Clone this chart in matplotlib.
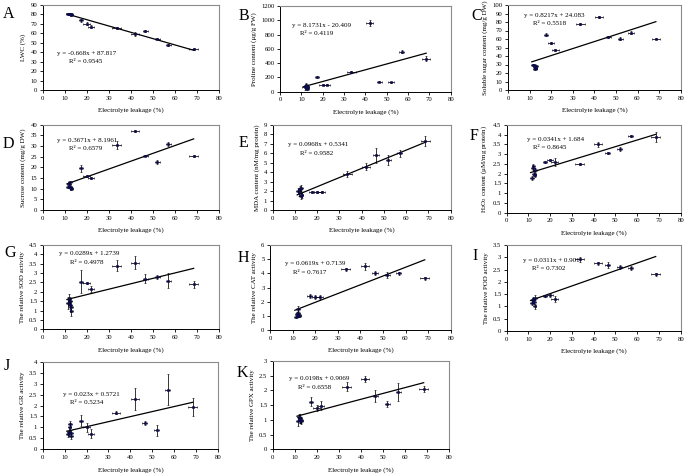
import matplotlib
matplotlib.use("Agg")
import matplotlib.pyplot as plt
from matplotlib.ticker import MultipleLocator, FormatStrFormatter
import numpy as np

plt.rcParams['font.family'] = ['Liberation Serif', 'DejaVu Serif']

W, H = 689, 476

# Shared x values (electrolyte leakage, %) and their errors
el = [11.5, 12.0, 12.3, 12.5, 12.8, 13.0, 17.5, 20.0, 22.0, 33.5, 42.0, 46.5, 52.0, 57.0, 68.5]
el_err = [1.0, 0.8, 0.8, 0.8, 0.8, 0.8, 1.0, 1.5, 1.5, 2.0, 1.8, 1.2, 1.2, 1.2, 2.0]

lwc = [81, 80.5, 81, 80, 80.5, 79.5, 74, 70, 67, 66, 59, 62, 54.5, 48, 43]
lwc_err = [0.8, 0.8, 0.8, 0.8, 0.8, 0.8, 1.5, 1.5, 1.5, 1.0, 2.0, 1.0, 1.0, 1.0, 1.0]

proline = [60, 80, 100, 50, 40, 70, 200, 100, 100, 275, 960, 140, 130, 560, 460]
proline_err = [30, 20, 20, 15, 15, 15, 15, 10, 10, 15, 40, 10, 10, 25, 35]

sugar = [30, 29, 27, 25, 26, 28, 65, 55, 47, 77.5, 86, 62, 60.5, 67.5, 60.5]
sugar_err = [1, 1, 1, 1, 1, 1, 1.5, 1, 1, 1, 1, 1, 1.5, 1.5, 1]

sucrose = [11, 12, 13, 11, 10.5, 10, 19.5, 16, 15, 30.5, 37, 25.5, 22.5, 31, 25.3]
sucrose_err = [0.8, 0.8, 0.8, 0.8, 0.8, 0.8, 1.5, 0.5, 0.5, 2.0, 0.5, 0.3, 1.0, 0.8, 0.3]

mda = [2.0, 1.8, 2.2, 1.5, 2.3, 1.6, 1.9, 1.9, 1.95, 3.8, 4.6, 5.8, 5.3, 6.0, 7.3]
mda_err = [0.3, 0.3, 0.3, 0.3, 0.3, 0.3, 0.1, 0.1, 0.1, 0.3, 0.4, 0.8, 0.5, 0.4, 0.5]

h2o2 = [1.8, 2.3, 2.4, 2.0, 1.95, 2.2, 2.6, 2.7, 2.6, 2.5, 3.5, 3.05, 3.25, 3.95, 3.9]
h2o2_err = [0.1, 0.1, 0.1, 0.1, 0.1, 0.1, 0.05, 0.05, 0.2, 0.05, 0.15, 0.05, 0.1, 0.05, 0.25]

sod = [1.4, 1.6, 1.5, 1.3, 1.2, 1.0, 2.55, 2.45, 2.15, 3.4, 3.55, 2.7, 2.8, 2.6, 2.4]
sod_err = [0.3, 0.3, 0.2, 0.3, 0.3, 0.3, 0.6, 0.05, 0.15, 0.3, 0.35, 0.25, 0.1, 0.4, 0.2]

cat = [0.95, 1.1, 1.5, 1.2, 1.0, 1.05, 2.4, 2.35, 2.35, 4.3, 4.5, 4.0, 3.9, 4.0, 3.65]
cat_err = [0.1, 0.15, 0.2, 0.15, 0.1, 0.1, 0.15, 0.15, 0.15, 0.1, 0.25, 0.15, 0.2, 0.1, 0.1]

pod = [1.15, 1.25, 1.3, 1.2, 1.0, 1.35, 1.42, 1.48, 1.3, 2.92, 2.75, 2.68, 2.6, 2.55, 2.3]
pod_err = [0.1, 0.1, 0.1, 0.1, 0.1, 0.1, 0.05, 0.08, 0.12, 0.1, 0.05, 0.12, 0.08, 0.08, 0.05]

gr = [0.7, 0.8, 1.0, 1.15, 0.6, 0.75, 1.3, 1.0, 0.72, 1.68, 2.28, 1.2, 0.88, 2.72, 1.92]
gr_err = [0.15, 0.2, 0.2, 0.15, 0.15, 0.15, 0.25, 0.2, 0.2, 0.05, 0.5, 0.1, 0.25, 0.7, 0.4]

gpx = [0.95, 1.1, 1.0, 1.05, 1.0, 0.95, 1.62, 1.4, 1.48, 2.12, 2.38, 1.8, 1.55, 1.95, 2.05]
gpx_err = [0.15, 0.1, 0.1, 0.15, 0.1, 0.1, 0.15, 0.1, 0.15, 0.15, 0.1, 0.2, 0.1, 0.3, 0.1]

# Regression fits (slope, intercept, R2) as printed on the chart
fits = {
    'A': (-0.668, 87.817, '0.9545'),
    'B': (8.1731, -20.409, '0.4119'),
    'C': (0.8217, 24.083, '0.5518'),
    'D': (0.3671, 8.1961, '0.6579'),
    'E': (0.0968, 0.5341, '0.9582'),
    'F': (0.0341, 1.684, '0.8645'),
    'G': (0.0289, 1.2739, '0.4978'),
    'H': (0.0619, 0.7139, '0.7617'),
    'I': (0.0311, 0.901, '0.7302'),
    'J': (0.023, 0.5721, '0.5234'),
    'K': (0.0198, 0.9069, '0.6558'),
}
eq_text = {
    'A': 'y = -0.668x + 87.817', 'B': 'y = 8.1731x - 20.409', 'C': 'y = 0.8217x + 24.083',
    'D': 'y = 0.3671x + 8.1961', 'E': 'y = 0.0968x + 0.5341', 'F': 'y = 0.0341x + 1.684',
    'G': 'y = 0.0289x + 1.2739', 'H': 'y = 0.0619x + 0.7139', 'I': 'y = 0.0311x + 0.901',
    'J': 'y = 0.023x + 0.5721', 'K': 'y = 0.0198x + 0.9069',
}

panels = [
    # key, y, yerr, ylabel, ymax, ystep, (x0, x1, ytop, ybot), letter pos, eq pos, r2 pos
    ('A', lwc, lwc_err, 'LWC (%)', 90, 10, (42.7, 219, 5, 90), (3, 18), (0.08, 0.43), (0.15, 0.33)),
    ('B', proline, proline_err, 'Proline content (μg/g FW)', 1200, 200, (280, 450.7, 6, 91.7), (239, 20), (0.07, 0.77), (0.12, 0.68)),
    ('C', sugar, sugar_err, 'Soluble sugar content (mg/g DW)', 100, 10, (508, 680.7, 5, 90), (471, 20), (0.09, 0.88), (0.145, 0.78)),
    ('D', sucrose, sucrose_err, 'Sucrose content (mg/g DW)', 40, 5, (42.7, 219, 124.7, 210), (3, 148), (0.083, 0.81), (0.15, 0.72)),
    ('E', mda, mda_err, 'MDA content (nM/mg protein)', 9, 1, (272.7, 450.7, 125, 210), (239, 147), (0.088, 0.765), (0.153, 0.667)),
    ('F', h2o2, h2o2_err, 'H$_2$O$_2$ content (μM/mg protein)', 4.5, 0.5, (506.7, 680.7, 125, 212.7), (470, 140), (0.115, 0.84), (0.153, 0.74)),
    ('G', sod, sod_err, 'The relative SOD activity', 4.5, 0.5, (42.7, 219, 245, 329.3), (4, 257), (0.094, 0.9), (0.155, 0.795)),
    ('H', cat, cat_err, 'The relative CAT activity', 6, 1, (270, 450.7, 245, 330), (238, 262), (0.083, 0.785), (0.13, 0.68)),
    ('I', pod, pod_err, 'The relative POD activity', 3.5, 0.5, (506.7, 680.7, 245, 331), (472, 260), (0.095, 0.825), (0.144, 0.73)),
    ('J', gr, gr_err, 'The relative GR activity', 4, 0.5, (42.7, 218, 361.7, 449.3), (4, 370), (0.114, 0.63), (0.156, 0.53)),
    ('K', gpx, gpx_err, 'The relative GPX activity', 3, 0.5, (272.7, 449, 361, 449.3), (237, 377), (0.094, 0.80), (0.145, 0.70)),
]

plt.rcParams['mathtext.fontset'] = 'custom'
plt.rcParams['mathtext.rm'] = 'Liberation Serif'
plt.rcParams['mathtext.it'] = 'Liberation Serif:italic'

fig = plt.figure(figsize=(W / 100, H / 100), dpi=100)
fig.patch.set_facecolor('white')

xfit = np.array([11.0, 68.5])

for key, y, yerr, ylab, ymax, ystep, box, lpos, epos, rpos in panels:
    x0, x1, yt, yb = box
    ax = fig.add_axes([x0 / W, 1 - yb / H, (x1 - x0) / W, (yb - yt) / H])
    ax.set_xlim(0, 80)
    ax.set_ylim(0, ymax)
    ax.xaxis.set_major_locator(MultipleLocator(10))
    ax.yaxis.set_major_locator(MultipleLocator(ystep))
    ax.yaxis.set_major_formatter(FormatStrFormatter('%g'))
    for s in ['top', 'right']:
        ax.spines[s].set_color('#8c8c8c')
        ax.spines[s].set_linewidth(0.8)
    for s in ['left', 'bottom']:
        ax.spines[s].set_color('black')
        ax.spines[s].set_linewidth(0.7)
    ax.tick_params(direction='out', length=2, width=0.6, labelsize=4.8, pad=2, colors='black')
    ax.set_xlabel('Electrolyte leakage (%)', fontsize=5, labelpad=5)
    ax.set_ylabel(ylab, fontsize=5, labelpad=3)

    ax.errorbar(el, y, xerr=el_err, yerr=yerr, fmt='s', ms=1.7, mfc='#0a0a50', mec='#0a0a50', mew=0.4,
                ecolor='black', elinewidth=0.55, capsize=0.9, capthick=0.55, zorder=3)
    m, b, r2 = fits[key]
    ax.plot(xfit, m * xfit + b, color='black', lw=0.9, zorder=2)
    ax.text(epos[0], epos[1], eq_text[key], transform=ax.transAxes, fontsize=5, va='center', ha='left')
    ax.text(rpos[0], rpos[1], 'R² = ' + r2, transform=ax.transAxes, fontsize=5, va='center', ha='left')

    fig.text(lpos[0] / W, 1 - lpos[1] / H, key, fontsize=11.5, ha='left', va='baseline')

fig.savefig('out.png', dpi=100)
